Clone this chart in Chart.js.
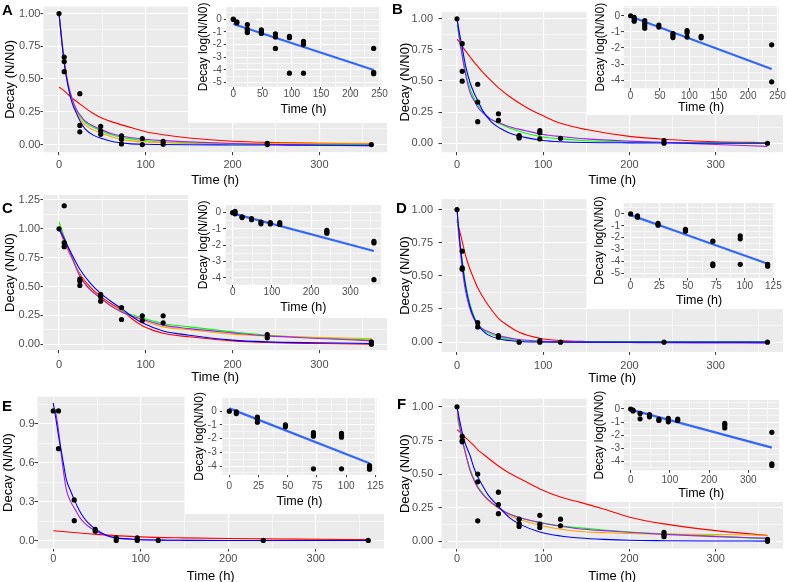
<!DOCTYPE html>
<html><head><meta charset="utf-8">
<script src="https://cdn.jsdelivr.net/npm/chart.js@4/dist/chart.umd.min.js"></script>
<style>
html,body{margin:0;padding:0;background:#fff;}
body{width:787px;height:582px;overflow:hidden;position:relative;}
canvas{position:absolute;}
.lbl{position:absolute;font-family:"Liberation Sans",Arial,sans-serif;font-weight:bold;font-size:15px;line-height:15px;color:#000;}
</style></head><body>
<script>
// ---------------- DATA ----------------
// Panel A
const ptsA_t = [0, 6,6,6, 24,24,24, 48,48,48, 72,72,72, 96,96, 120,120, 240,240, 360];
const ptsA_y = [1.0, 0.668,0.634,0.556, 0.388,0.146,0.097, 0.139,0.105,0.078, 0.066,0.04,0.005, 0.046,0.0, 0.024,0.003, 0.01,0.0, 0.0];
const curveA_t = [0,3,6,10,15,20,25,30,40,50,60,80,100,120,150,200,250,300,360];
const redA    = [0.437,0.425,0.41,0.385,0.355,0.33,0.305,0.28,0.235,0.2,0.175,0.135,0.098,0.075,0.05,0.025,0.015,0.01,0.005];
const greenA  = [1.0,0.81,0.64,0.48,0.35,0.26,0.21,0.17,0.13,0.1,0.075,0.045,0.03,0.018,0.01,0.004,0.002,0.0,-0.002];
const blueA   = [1.0,0.8,0.62,0.46,0.32,0.24,0.17,0.12,0.07,0.045,0.025,0.007,0.002,0.0,-0.002,-0.003,-0.004,-0.005,-0.005];
const purpleA = [1.0,0.8,0.63,0.47,0.35,0.27,0.22,0.18,0.14,0.11,0.085,0.055,0.04,0.03,0.02,0.008,0.0,-0.005,-0.01];
const orangeA = [1.0,0.83,0.66,0.49,0.35,0.25,0.19,0.15,0.11,0.085,0.06,0.03,0.02,0.015,0.012,0.01,0.01,0.01,0.01];
const logA_t = [0,0,6,6,24,24,24,24,48,48,48,72,72,72,96,96,96,120,120,120,120,240,240,240];
const logA_y = [0.02,-0.02,-0.2,-0.28,-0.42,-0.78,-0.96,-1.05,-0.84,-0.97,-1.12,-1.15,-1.4,-2.3,-1.35,-1.45,-4.25,-1.75,-1.9,-2.0,-4.25,-2.3,-4.18,-4.3];
const fitA_t = [0,240];
const fitA_y = [-0.37,-4.0];

// Panel B
const ptsB_t = [0, 6,6,6, 24,24,24, 48,48, 72,72,72, 96,96,96, 120, 240,240, 360];
const ptsB_y = [1.0, 0.8,0.578,0.499, 0.474,0.331,0.173, 0.237,0.183, 0.062,0.052,0.042, 0.101,0.084,0.035, 0.04, 0.022,0.0, 0.0];
const curveB_t = [0,3,6,10,15,20,25,30,40,50,60,80,100,120,150,200,250,300,360];
const redB    = [0.837,0.81,0.78,0.74,0.695,0.65,0.61,0.57,0.5,0.435,0.38,0.29,0.22,0.16,0.11,0.055,0.028,0.012,0.005];
const greenB  = [0.95,0.83,0.72,0.57,0.44,0.36,0.3,0.25,0.19,0.155,0.125,0.08,0.05,0.035,0.02,0.01,0.005,0.002,0.0];
const blueB   = [1.0,0.88,0.77,0.62,0.49,0.4,0.33,0.26,0.17,0.12,0.085,0.045,0.022,0.012,0.006,0.003,0.002,0.001,0.0];
const purpleB = [1.0,0.83,0.7,0.55,0.41,0.34,0.28,0.245,0.19,0.16,0.135,0.1,0.07,0.054,0.035,0.017,0.005,-0.01,-0.025];
const logB_t = [0, 6,6,6, 24,24,24,24, 48,48, 72,72,72, 96,96,96, 120,120, 240,240];
const logB_y = [0, -0.1,-0.24,-0.34, -0.3,-0.46,-0.6,-0.77, -0.58,-0.7, -1.1,-1.22,-1.35, -0.92,-1.05,-1.32, -1.27,-1.37, -1.8,-4.1];
const fitB_t = [0,240];
const fitB_y = [-0.05,-3.3];

// Panel C
const ptsC_t = [0, 6,6,6, 24,24,24, 48,48,48, 72,72, 96,96, 120,120, 240,240, 360,360];
const ptsC_y = [1.0, 1.2,0.88,0.845, 0.564,0.547,0.509, 0.431,0.411,0.373, 0.318,0.214, 0.246,0.205, 0.246,0.185, 0.084,0.055, 0.02,0.0];
const curveC_t = [0,6,12,24,36,48,60,72,84,96,120,150,200,240,300,360];
const redC    = [1.0,0.89,0.79,0.61,0.495,0.415,0.35,0.295,0.22,0.16,0.095,0.064,0.029,0.015,0.006,0.0];
const greenC  = [1.06,0.93,0.81,0.59,0.475,0.4,0.33,0.285,0.255,0.228,0.18,0.15,0.107,0.078,0.055,0.035];
const blueC   = [1.0,0.91,0.82,0.65,0.53,0.44,0.37,0.31,0.24,0.185,0.115,0.078,0.035,0.02,0.012,0.006];
const purpleC = [1.02,0.92,0.81,0.59,0.47,0.4,0.33,0.28,0.245,0.217,0.165,0.135,0.098,0.072,0.05,0.029];
const orangeC = [1.0,0.9,0.8,0.6,0.48,0.405,0.335,0.28,0.24,0.208,0.15,0.125,0.087,0.072,0.058,0.049];
const logC_t = [0, 6,6,6, 24,24, 48,48, 72,72, 96,96, 120,120, 240,240,240, 360,360,360];
const logC_y = [0, 0.08,0.0,-0.07, -0.25,-0.3, -0.37,-0.43, -0.57,-0.68, -0.6,-0.69, -0.6,-0.72, -1.08,-1.17,-1.26, -1.75,-1.85,-4.1];
const fitC_t = [0,360];
const fitC_y = [-0.04,-2.35];

// Panel D
const ptsD_t = [0, 6,6,6, 24,24, 48,48, 72, 96,96, 120, 240, 360];
const ptsD_y = [1.0, 0.686,0.56,0.55, 0.147,0.115, 0.049,0.037, 0.0, 0.012,0.0, 0.0, 0.0, 0.0];
const curveD_t = [0,3,6,10,15,20,24,30,36,48,60,72,96,120,150,200,240,300,360];
const redD    = [0.91,0.84,0.76,0.65,0.55,0.47,0.41,0.34,0.28,0.18,0.12,0.075,0.03,0.012,0.005,0.002,0.001,0.0,0.0];
const greenD  = [0.93,0.76,0.62,0.44,0.29,0.19,0.14,0.095,0.07,0.04,0.022,0.012,0.004,0.002,0.002,0.002,0.002,0.002,0.002];
const blueD   = [1.0,0.78,0.6,0.42,0.27,0.18,0.13,0.085,0.055,0.025,0.012,0.005,0.001,0.0,0.0,0.0,0.0,0.0,0.0];
const purpleD = [1.0,0.74,0.56,0.38,0.25,0.17,0.13,0.1,0.08,0.05,0.032,0.02,0.008,0.003,0.0,-0.003,-0.005,-0.006,-0.007];
const logD_t = [0, 6,6, 24,24, 48,48, 72,72,72, 96,96,96, 120,120];
const logD_y = [0, -0.17,-0.28, -0.8,-0.95, -1.3,-1.45, -2.3,-4.2,-4.35, -1.85,-2.1,-4.25, -4.25,-4.4];
const fitD_t = [0,120];
const fitD_y = [-0.1,-4.2];

// Panel E
const ptsE_t = [0, 6,6, 24,24, 48,48, 72,72, 96,96, 120, 240, 360];
const ptsE_y = [1.0, 1.0,0.709, 0.313,0.153, 0.085,0.072, 0.02,0.0, 0.02,0.0, 0.0, 0.0, 0.0];
const curveE_t = [0,3,6,10,15,20,25,30,35,40,48,60,72,96,120,150,200,240,300,360];
const blueE   = [1.063,0.94,0.81,0.66,0.47,0.38,0.3,0.23,0.175,0.135,0.088,0.043,0.02,0.008,0.003,0.001,0.0,0.0,0.0,0.0];
const purpleE = [1.01,0.98,0.85,0.62,0.39,0.3,0.24,0.18,0.14,0.11,0.075,0.038,0.02,0.008,0.003,0.001,0.0,0.0,0.0,0.0];
const redE_t  = [0,50,100,150,200,280,360];
const redE    = [0.075,0.047,0.028,0.02,0.015,0.01,0.007];
const logE_t = [0, 6,6, 24,24,24, 48,48, 72,72,72,72, 96,96,96,96, 120,120,120];
const logE_y = [0, -0.05,-0.18, -0.43,-0.56,-0.81, -1.0,-1.14, -1.57,-1.7,-1.82,-4.2, -1.62,-1.77,-1.9,-4.2, -3.97,-4.1,-4.23];
const fitE_t = [0,120];
const fitE_y = [0.2,-3.8];

// Panel F
const ptsF_t = [0, 6,6,6, 24,24,24, 48,48,48, 72,72,72, 96,96,96, 120,120, 240,240,240, 360,360];
const ptsF_y = [1.0, 0.78,0.75,0.74, 0.5,0.443,0.153, 0.366,0.274,0.206, 0.165,0.133,0.111, 0.194,0.128,0.104, 0.165,0.116, 0.068,0.051,0.035, 0.015,0.0];
const curveF_t = [0,3,6,10,15,20,24,30,36,48,60,72,96,120,143,170,200,240,300,360];
const redF    = [0.83,0.815,0.79,0.77,0.74,0.71,0.68,0.65,0.62,0.56,0.51,0.47,0.39,0.33,0.29,0.24,0.18,0.13,0.08,0.044];
const greenF  = [0.93,0.84,0.76,0.65,0.54,0.46,0.41,0.355,0.31,0.25,0.205,0.177,0.14,0.115,0.1,0.085,0.07,0.056,0.039,0.019];
const blueF   = [1.0,0.9,0.81,0.72,0.64,0.54,0.48,0.41,0.346,0.26,0.18,0.13,0.07,0.04,0.025,0.015,0.008,0.005,0.003,0.002];
const purpleF = [1.0,0.86,0.76,0.65,0.53,0.45,0.4,0.35,0.31,0.25,0.205,0.177,0.14,0.112,0.092,0.08,0.068,0.052,0.035,0.024];
const orangeF = [0.95,0.85,0.76,0.65,0.53,0.45,0.4,0.35,0.305,0.245,0.195,0.165,0.12,0.09,0.073,0.065,0.058,0.055,0.051,0.046];
const logF_t = [0, 6,6, 24,24, 48,48, 72,72, 96,96,96, 120,120, 240,240,240, 360,360,360];
const logF_y = [0, -0.08,-0.15, -0.34,-0.75, -0.43,-0.6, -0.78,-0.88, -0.72,-0.85,-0.98, -0.78,-0.88, -1.1,-1.25,-1.45, -1.78,-4.2,-4.32];
const fitF_t = [0,360];
const fitF_y = [-0.05,-2.95];

// Tick values and labels
const mainXTicks = [0,100,200,300];
const mainXLabels = ['0','100','200','300'];
const decayTicks = [0,0.25,0.5,0.75,1];
const decayLabels = ['0.00','0.25','0.50','0.75','1.00'];
const decayTicksC = [0,0.25,0.5,0.75,1,1.25];
const decayLabelsC = ['0.00','0.25','0.50','0.75','1.00','1.25'];
const decayTicksE = [0,0.3,0.6,0.9];
const decayLabelsE = ['0.0','0.3','0.6','0.9'];
const inset250Ticks = [0,50,100,150,200,250];
const inset250Labels = ['0','50','100','150','200','250'];
const inset300Ticks = [0,100,200,300];
const inset300Labels = ['0','100','200','300'];
const inset125Ticks = [0,25,50,75,100,125];
const inset125Labels = ['0','25','50','75','100','125'];
const log5Ticks = [-5,-4,-3,-2,-1,0];
const log5Labels = ['-5','-4','-3','-2','-1','0'];
const log4Ticks = [-4,-3,-2,-1,0];
const log4Labels = ['-4','-3','-2','-1','0'];

// ---------------- RENDERING ----------------
const FONT = '"Liberation Sans", Arial, sans-serif';
const COL = {red:'#FF0000', green:'#00FF00', blue:'#0000FF', purple:'#A020F0', orange:'#FFA500', fit:'#3366FF'};
const xy = (xs, ys) => xs.map((x, i) => ({x: x, y: ys[i]}));
const near = (list, v) => list.some(m => Math.abs(m - v) < 1e-6);
function minorsOf(major, min, max) {
  const step = major[1] - major[0], out = [];
  for (let i = -1; i < major.length; i++) {
    const v = major[0] + (i + 0.5) * step;
    if (v > min && v < max) out.push(v);
  }
  return out;
}

const bgPlugin = {
  id: 'bg',
  beforeDraw(chart, args, opts) {
    const {ctx, chartArea: a} = chart;
    ctx.save();
    if (opts.white) { ctx.fillStyle = '#FFFFFF'; ctx.fillRect(0, 0, chart.width, chart.height); }
    ctx.fillStyle = '#EBEBEB';
    ctx.fillRect(a.left, a.top, a.right - a.left, a.bottom - a.top);
    ctx.restore();
  }
};

function scaleCfg(o) {
  const minor = minorsOf(o.major, o.min, o.max);
  const all = o.major.concat(minor).sort((a, b) => a - b);
  return {
    type: 'linear', min: o.min, max: o.max,
    afterBuildTicks: s => { s.ticks = all.map(v => ({value: v})); },
    afterFit: s => { if (o.axis === 'x') s.height = o.size; else s.width = o.size; },
    ticks: {
      autoSkip: false, maxRotation: 0, minRotation: 0, padding: o.labPad,
      color: '#4D4D4D', font: {family: FONT, size: o.tickFont, lineHeight: o.tickLH},
      callback: v => { const i = o.major.findIndex(m => Math.abs(m - v) < 1e-6); return i < 0 ? '' : o.labels[i]; }
    },
    grid: {
      color: '#FFFFFF',
      lineWidth: c => (c.tick && near(o.major, c.tick.value)) ? 1.1 : 0.55,
      drawTicks: true, tickLength: o.tickLen, tickWidth: 1,
      tickColor: c => (c.tick && near(o.major, c.tick.value)) ? '#333333' : 'rgba(0,0,0,0)'
    },
    border: {display: false},
    title: {
      display: true, text: o.title, color: '#000000',
      font: {family: FONT, size: o.titleSize, lineHeight: 1.2},
      padding: o.axis === 'x' ? {top: 0, bottom: o.titlePad} : {top: o.titlePad, bottom: 0}
    }
  };
}

function makeCanvas(left, top, w, h) {
  const c = document.createElement('canvas');
  c.width = Math.round(w); c.height = Math.round(h);
  c.style.left = left + 'px'; c.style.top = top + 'px';
  c.style.width = Math.round(w) + 'px'; c.style.height = Math.round(h) + 'px';
  document.body.appendChild(c);
  return c;
}

function lineDs(xs, ys, color, w) {
  return {type: 'line', data: xy(xs, ys), borderColor: color, borderWidth: w, pointRadius: 0,
          fill: false, cubicInterpolationMode: 'monotone'};
}
function pointDs(xs, ys, r) {
  return {type: 'scatter', data: xy(xs, ys), pointRadius: r, pointBackgroundColor: '#000000',
          pointBorderWidth: 0, showLine: false};
}

// main panel: geometry in page pixels
function mainPanel(g, datasets) {
  const cw = g.col === 0 ? 390 : 397;
  const tickLen = 3, tickHalf = 6.6, titleHalf = 7.8;
  const cBottom = g.titleY + titleHalf + 1;
  const canvas = makeCanvas(g.col, g.cTop, cw, cBottom - g.cTop);
  new Chart(canvas, {
    type: 'scatter',
    data: {datasets: datasets},
    options: {
      responsive: false, animation: false, devicePixelRatio: 1, events: [],
      layout: {autoPadding: false, padding: {left: 0, top: g.T - g.cTop, right: g.col + cw - g.R, bottom: 0}},
      plugins: {legend: {display: false}, tooltip: {enabled: false}, bg: {white: false}},
      scales: {
        x: scaleCfg({axis: 'x', min: g.xmin, max: g.xmax, major: mainXTicks, labels: mainXLabels,
          size: cBottom - g.B, labPad: Math.max(0, g.labY - g.B - tickLen - tickHalf), tickFont: 11, tickLH: 1.2,
          tickLen: tickLen, title: 'Time (h)', titleSize: 13, titlePad: 1}),
        y: scaleCfg({axis: 'y', min: g.ymin, max: g.ymax, major: g.yMajor, labels: g.yLabels,
          size: g.L - g.col, labPad: Math.max(0, g.L - tickLen - g.yLabRight), tickFont: 11, tickLH: 1.2,
          tickLen: tickLen, title: 'Decay (N/N0)', titleSize: 13, titlePad: g.yTitleX - g.col - titleHalf})
      }
    },
    plugins: [bgPlugin]
  });
}

function insetPanel(g, datasets) {
  const tickLen = 2.5, tickHalf = 5, titleHalf = 7.2;
  const canvas = makeCanvas(g.WL, g.WT, g.WR - g.WL, g.WB - g.WT);
  new Chart(canvas, {
    type: 'scatter',
    data: {datasets: datasets},
    options: {
      responsive: false, animation: false, devicePixelRatio: 1, events: [],
      layout: {autoPadding: false, padding: {left: 0, top: g.T - g.WT, right: g.WR - g.R, bottom: 0}},
      plugins: {legend: {display: false}, tooltip: {enabled: false}, bg: {white: true}},
      scales: {
        x: scaleCfg({axis: 'x', min: g.xmin, max: g.xmax, major: g.xMajor, labels: g.xLabels,
          size: g.WB - g.B, labPad: Math.max(0, g.labY - g.B - tickLen - tickHalf), tickFont: 10, tickLH: 1.0,
          tickLen: tickLen, title: 'Time (h)', titleSize: 12.5, titlePad: Math.max(0, g.WB - g.titleY - titleHalf)}),
        y: scaleCfg({axis: 'y', min: g.ymin, max: g.ymax, major: g.yMajor, labels: g.yLabels,
          size: g.L - g.WL, labPad: Math.max(0, g.L - tickLen - g.yLabRight), tickFont: 10, tickLH: 1.0,
          tickLen: tickLen, title: 'Decay log(N/N0)', titleSize: 12, titlePad: g.yTitleX - g.WL - titleHalf})
      }
    },
    plugins: [bgPlugin]
  });
}

function letter(t, x, y) {
  const d = document.createElement('div');
  d.className = 'lbl'; d.textContent = t; d.style.left = x + 'px'; d.style.top = y + 'px';
  document.body.appendChild(d);
}

const LW = 1.1, PR = 2.6, FW = 2.2;

// ---- Panel A
mainPanel({col: 0, L: 43.4, T: 0, R: 387, B: 152, cTop: 0, titleY: 180, labY: 165, yTitleX: 10.5, yLabRight: 40.5,
  xmin: -18, xmax: 378, ymin: -0.0585, ymax: 1.053, yMajor: decayTicks, yLabels: decayLabels}, [
  pointDs(ptsA_t, ptsA_y, PR),
  lineDs(curveA_t, blueA, COL.blue, LW),
  lineDs(curveA_t, purpleA, COL.purple, LW),
  lineDs(curveA_t, orangeA, COL.orange, LW),
  lineDs(curveA_t, greenA, COL.green, LW),
  lineDs(curveA_t, redA, COL.red, LW)
]);
insetPanel({WL: 188, WT: 0, WR: 388, WB: 123, L: 226.3, T: 0, R: 381, B: 86.7, titleY: 110, labY: 94.3, yTitleX: 204, yLabRight: 221.7,
  xmin: -12, xmax: 252, ymin: -5.32, ymax: 0.96, xMajor: inset250Ticks, xLabels: inset250Labels, yMajor: log5Ticks, yLabels: log5Labels}, [
  pointDs(logA_t, logA_y, PR),
  lineDs(fitA_t, fitA_y, COL.fit, FW)
]);

// ---- Panel B
mainPanel({col: 390, L: 441.5, T: 0, R: 783, B: 152, cTop: 0, titleY: 180, labY: 165, yTitleX: 405, yLabRight: 433,
  xmin: -18, xmax: 378, ymin: -0.072, ymax: 1.054, yMajor: decayTicks, yLabels: decayLabels}, [
  pointDs(ptsB_t, ptsB_y, PR),
  lineDs(curveB_t, blueB, COL.blue, LW),
  lineDs(curveB_t, purpleB, COL.purple, LW),
  lineDs(curveB_t, greenB, COL.green, LW),
  lineDs(curveB_t, redB, COL.red, LW)
]);
insetPanel({WL: 587, WT: 0, WR: 787, WB: 115, L: 623.6, T: 3.3, R: 778.7, B: 88.3, titleY: 108.3, labY: 94.3, yTitleX: 601, yLabRight: 620,
  xmin: -12, xmax: 252, ymin: -4.5, ymax: 0.6, xMajor: inset250Ticks, xLabels: inset250Labels, yMajor: log4Ticks, yLabels: log4Labels}, [
  pointDs(logB_t, logB_y, PR),
  lineDs(fitB_t, fitB_y, COL.fit, FW)
]);

// ---- Panel C
mainPanel({col: 0, L: 43.4, T: 195, R: 387, B: 350, cTop: 187, titleY: 377, labY: 365, yTitleX: 10.5, yLabRight: 40,
  xmin: -18, xmax: 378, ymin: -0.052, ymax: 1.293, yMajor: decayTicksC, yLabels: decayLabelsC}, [
  pointDs(ptsC_t, ptsC_y, PR),
  lineDs(curveC_t, blueC, COL.blue, LW),
  lineDs(curveC_t, purpleC, COL.purple, LW),
  lineDs(curveC_t, orangeC, COL.orange, LW),
  lineDs(curveC_t, greenC, COL.green, LW),
  lineDs(curveC_t, redC, COL.red, LW)
]);
insetPanel({WL: 188, WT: 190, WR: 388, WB: 318.3, L: 225.6, T: 205, R: 381, B: 285, titleY: 308.3, labY: 290, yTitleX: 203.3, yLabRight: 221,
  xmin: -18, xmax: 378, ymin: -4.41, ymax: 0.47, xMajor: inset300Ticks, xLabels: inset300Labels, yMajor: log4Ticks, yLabels: log4Labels}, [
  pointDs(logC_t, logC_y, PR),
  lineDs(fitC_t, fitC_y, COL.fit, FW)
]);

// ---- Panel D
mainPanel({col: 390, L: 441.5, T: 195, R: 783, B: 351.7, cTop: 187, titleY: 378, labY: 366, yTitleX: 405.3, yLabRight: 433,
  xmin: -18, xmax: 378, ymin: -0.0735, ymax: 1.079, yMajor: decayTicks, yLabels: decayLabels}, [
  pointDs(ptsD_t, ptsD_y, PR),
  lineDs(curveD_t, blueD, COL.blue, LW),
  lineDs(curveD_t, purpleD, COL.purple, LW),
  lineDs(curveD_t, greenD, COL.green, LW),
  lineDs(curveD_t, redD, COL.red, LW)
]);
insetPanel({WL: 587, WT: 190, WR: 787, WB: 308.3, L: 623.8, T: 203, R: 774.5, B: 278.3, titleY: 301.7, labY: 286.7, yTitleX: 599.3, yLabRight: 620,
  xmin: -6, xmax: 126, ymin: -5.4, ymax: 0.92, xMajor: inset125Ticks, xLabels: inset125Labels, yMajor: log5Ticks, yLabels: log5Labels}, [
  pointDs(logD_t, logD_y, PR),
  lineDs(fitD_t, fitD_y, COL.fit, FW)
]);

// ---- Panel E
mainPanel({col: 0, L: 37.5, T: 396.7, R: 384, B: 548.3, cTop: 389, titleY: 576, labY: 559, yTitleX: 8.7, yLabRight: 36,
  xmin: -18, xmax: 378, ymin: -0.062, ymax: 1.11, yMajor: decayTicksE, yLabels: decayLabelsE}, [
  pointDs(ptsE_t, ptsE_y, PR),
  lineDs(curveE_t, blueE, COL.blue, LW),
  lineDs(curveE_t, purpleE, COL.purple, LW),
  lineDs(redE_t, redE, COL.red, LW)
]);
insetPanel({WL: 185, WT: 390, WR: 388, WB: 514.3, L: 222.3, T: 398, R: 377.2, B: 475, titleY: 502.3, labY: 486.7, yTitleX: 200, yLabRight: 216.7,
  xmin: -6, xmax: 126, ymin: -4.63, ymax: 0.95, xMajor: inset125Ticks, xLabels: inset125Labels, yMajor: log4Ticks, yLabels: log4Labels}, [
  pointDs(logE_t, logE_y, PR),
  lineDs(fitE_t, fitE_y, COL.fit, FW)
]);

// ---- Panel F
mainPanel({col: 390, L: 441.5, T: 395, R: 783, B: 548.3, cTop: 387, titleY: 576, labY: 559, yTitleX: 405.3, yLabRight: 433.3,
  xmin: -18, xmax: 378, ymin: -0.053, ymax: 1.06, yMajor: decayTicks, yLabels: decayLabels}, [
  pointDs(ptsF_t, ptsF_y, PR),
  lineDs(curveF_t, blueF, COL.blue, LW),
  lineDs(curveF_t, purpleF, COL.purple, LW),
  lineDs(curveF_t, orangeF, COL.orange, LW),
  lineDs(curveF_t, greenF, COL.green, LW),
  lineDs(curveF_t, redF, COL.red, LW)
]);
insetPanel({WL: 587, WT: 390, WR: 787, WB: 501.7, L: 623.6, T: 400, R: 778.9, B: 470, titleY: 493.3, labY: 480, yTitleX: 599.3, yLabRight: 620,
  xmin: -18, xmax: 378, ymin: -4.69, ymax: 0.69, xMajor: inset300Ticks, xLabels: inset300Labels, yMajor: log4Ticks, yLabels: log4Labels}, [
  pointDs(logF_t, logF_y, PR),
  lineDs(fitF_t, fitF_y, COL.fit, FW)
]);

letter('A', 2, 2);
letter('B', 392, 1);
letter('C', 2, 200);
letter('D', 396, 200);
letter('E', 2, 398);
letter('F', 397, 396);
</script>
</body></html>
